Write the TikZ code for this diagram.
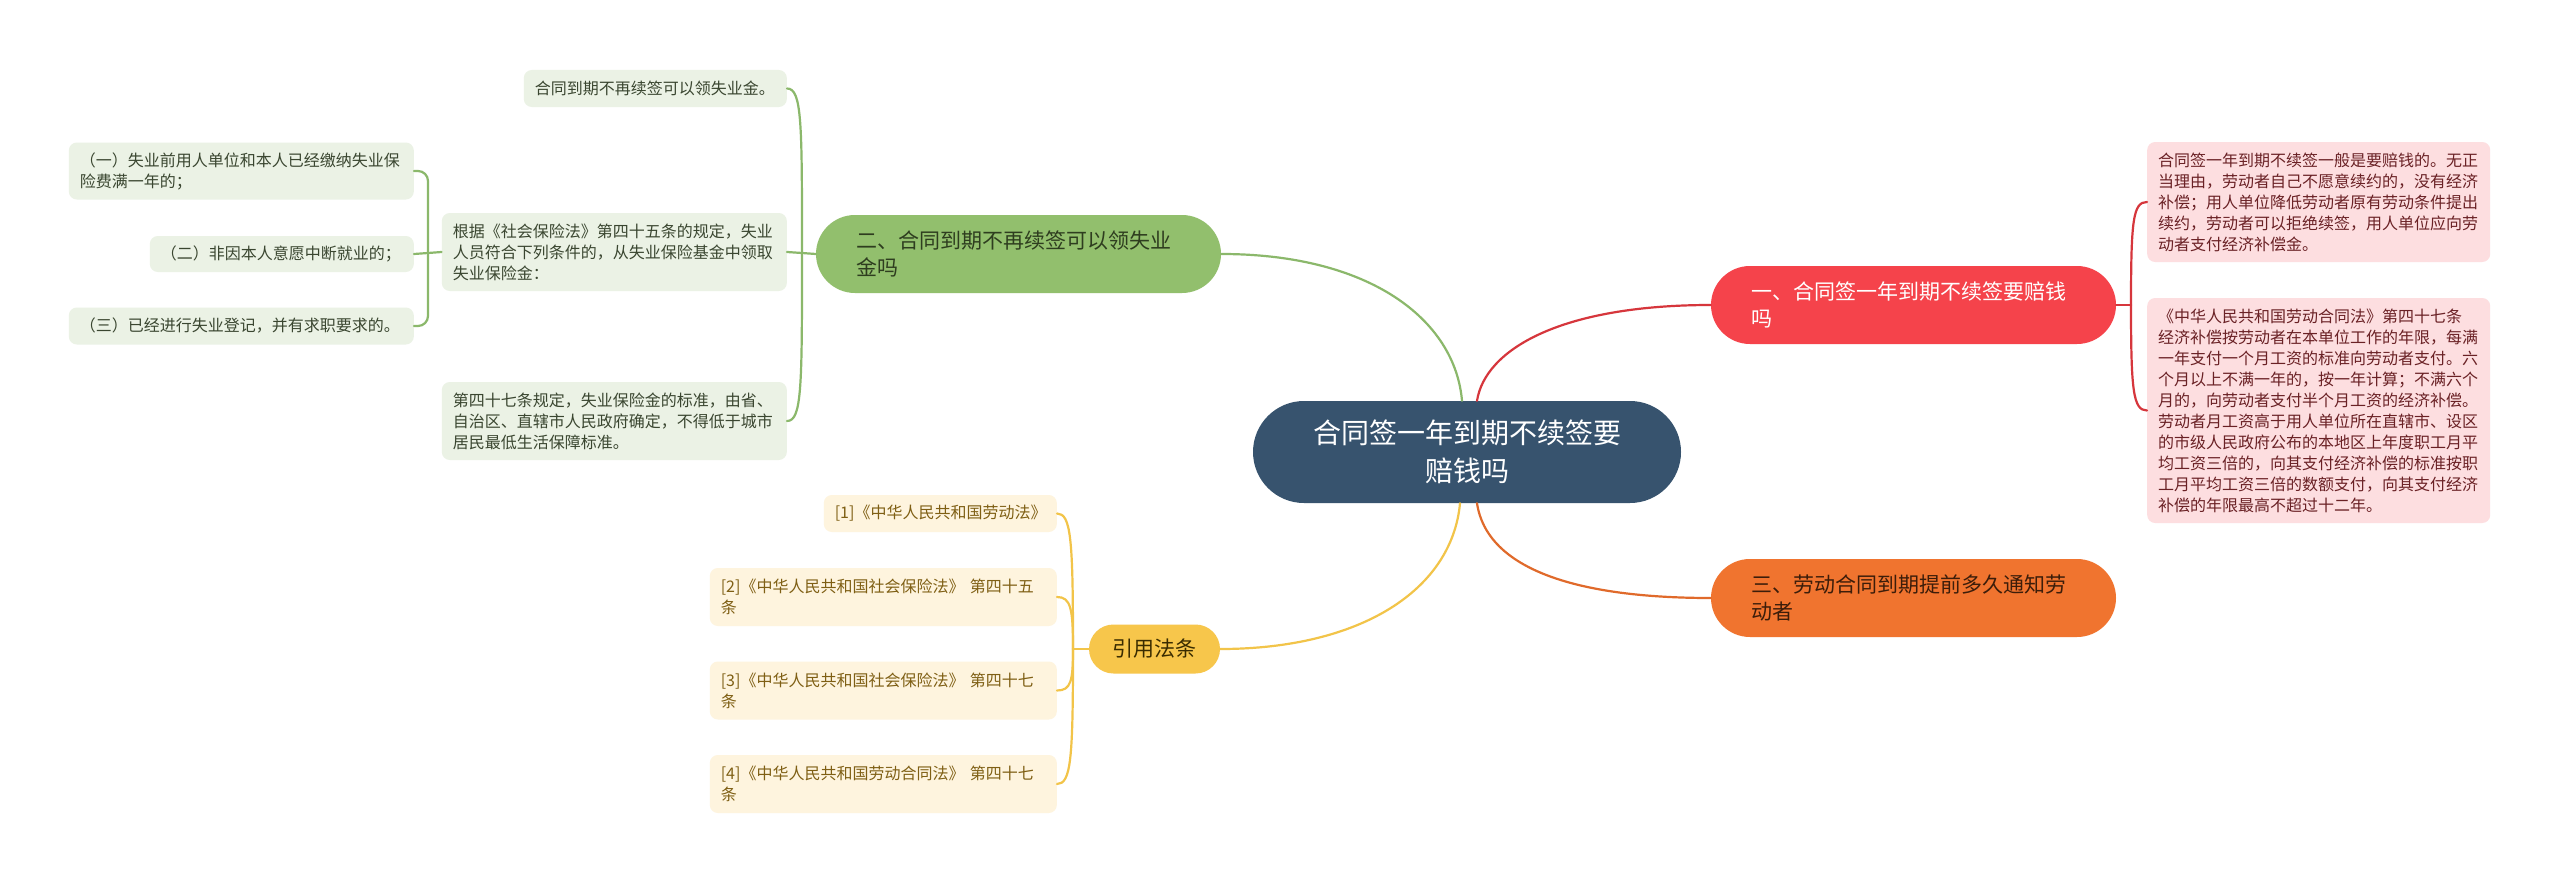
\documentclass[tikz,border=0pt]{standalone}
\usepackage{fontspec}
\setmainfont{Noto Sans CJK SC}
\usetikzlibrary{calc}
\definecolor{cfill}{HTML}{37536E}
\definecolor{gfill}{HTML}{92BF6D}
\definecolor{gtext}{HTML}{2E3D1F}
\definecolor{gleaffill}{HTML}{EBF2E5}
\definecolor{gleaftext}{HTML}{3A4630}
\definecolor{gline}{HTML}{8BB86B}
\definecolor{rfill}{HTML}{F5434B}
\definecolor{rleaffill}{HTML}{FDDEE0}
\definecolor{rleaftext}{HTML}{6A2125}
\definecolor{rline}{HTML}{D6363C}
\definecolor{ofill}{HTML}{F0742F}
\definecolor{otext}{HTML}{3C1D0A}
\definecolor{oline}{HTML}{E06A2B}
\definecolor{yfill}{HTML}{F7C64B}
\definecolor{ytext}{HTML}{3A2C00}
\definecolor{yleaffill}{HTML}{FEF4DE}
\definecolor{yleaftext}{HTML}{7F5F14}
\definecolor{yline}{HTML}{F2C449}
\begin{document}
\begin{tikzpicture}[x=1pt,y=-1pt,
  central/.style={fill=cfill, text=white, rounded corners=51pt, minimum height=102pt,
    text width=330pt, inner xsep=49pt, inner ysep=4pt, align=center,
    font=\fontsize{28}{38}\selectfont},
  branch/.style={rounded corners=39pt, minimum height=78pt, text width=325pt,
    inner xsep=40pt, inner ysep=4pt, align=left, font=\fontsize{21}{27}\selectfont},
  ybranch/.style={fill=yfill, text=ytext, rounded corners=24.5pt, minimum height=49pt,
    minimum width=131pt, inner xsep=4pt, inner ysep=4pt, align=center,
    font=\fontsize{21}{27}\selectfont},
  leaf/.style={rounded corners=8pt, inner xsep=11pt, inner ysep=4pt, align=left,
    font=\fontsize{16}{21}\selectfont},
  gleaf/.style={leaf, fill=gleaffill, text=gleaftext},
  rleaf/.style={leaf, fill=rleaffill, text=rleaftext},
  yleaf/.style={leaf, fill=yleaffill, text=yleaftext},
  conn/.style={line width=2.2pt, line cap=round},
  gconn/.style={conn, draw=gline},
  rconn/.style={conn, draw=rline},
  yconn/.style={conn, draw=yline},
  oconn/.style={conn, draw=oline}]
\fill[white] (0,0) rectangle (2560,883);
\useasboundingbox (0,0) rectangle (2560,883);

% central
\node[central] (c) at (1467,452) {合同签一年到期不续签要\\赔钱吗};

% branches
\node[branch, fill=gfill, text=gtext] (gn) at (1018.5,254) {二、合同到期不再续签可以领失业\\金吗};
\node[branch, fill=rfill, text=white] (rn) at (1913.5,305) {一、合同签一年到期不续签要赔钱\\吗};
\node[branch, fill=ofill, text=otext] (on) at (1913.5,598) {三、劳动合同到期提前多久通知劳\\动者};
\node[ybranch] (yn) at (1154.5,649) {引用法条};

% green leaves
\node[gleaf, anchor=east, text width=241pt, minimum height=37pt] (g1) at (787,88.5) {合同到期不再续签可以领失业金。};
\node[gleaf, anchor=east, text width=323pt, minimum height=78pt] (g2) at (787,252) {根据《社会保险法》第四十五条的规定，失业\\人员符合下列条件的，从失业保险基金中领取\\失业保险金：};
\node[gleaf, anchor=east, text width=323pt, minimum height=78pt] (g3) at (787,421) {第四十七条规定，失业保险金的标准，由省、\\自治区、直辖市人民政府确定，不得低于城市\\居民最低生活保障标准。};
\node[gleaf, anchor=east, text width=323pt, minimum height=57pt] (g21) at (414,171) {（一）失业前用人单位和本人已经缴纳失业保\\险费满一年的；};
\node[gleaf, anchor=east, text width=242pt, minimum height=36pt] (g22) at (414,254) {（二）非因本人意愿中断就业的；};
\node[gleaf, anchor=east, text width=323pt, minimum height=37pt] (g23) at (414,326) {（三）已经进行失业登记，并有求职要求的。};

% yellow leaves
\node[yleaf, anchor=east, text width=211pt, minimum height=37pt] (y1) at (1057,513.5) {[1]《中华人民共和国劳动法》};
\node[yleaf, anchor=east, text width=325pt, minimum height=58pt] (y2) at (1057,597) {[2]《中华人民共和国社会保险法》~第四十五\\条};
\node[yleaf, anchor=east, text width=325pt, minimum height=58pt] (y3) at (1057,690.5) {[3]《中华人民共和国社会保险法》~第四十七\\条};
\node[yleaf, anchor=east, text width=325pt, minimum height=58pt] (y4) at (1057,784) {[4]《中华人民共和国劳动合同法》~第四十七\\条};

% red leaves
\node[rleaf, anchor=west, text width=321pt, minimum height=120pt] (r1) at (2147,202) {合同签一年到期不续签一般是要赔钱的。无正\\当理由，劳动者自己不愿意续约的，没有经济\\补偿；用人单位降低劳动者原有劳动条件提出\\续约，劳动者可以拒绝续签，用人单位应向劳\\动者支付经济补偿金。};
\node[rleaf, anchor=west, text width=321pt, minimum height=225pt] (r2) at (2147,410.5) {《中华人民共和国劳动合同法》第四十七条\\经济补偿按劳动者在本单位工作的年限，每满\\一年支付一个月工资的标准向劳动者支付。六\\个月以上不满一年的，按一年计算；不满六个\\月的，向劳动者支付半个月工资的经济补偿。\\劳动者月工资高于用人单位所在直辖市、设区\\的市级人民政府公布的本地区上年度职工月平\\均工资三倍的，向其支付经济补偿的标准按职\\工月平均工资三倍的数额支付，向其支付经济\\补偿的年限最高不超过十二年。};

% central connectors
\coordinate (cgt) at ($(c.north)+(-5,0)$);
\coordinate (crt) at ($(c.north)+(10,0)$);
\coordinate (cyb) at ($(c.south)+(-7,0)$);
\coordinate (cob) at ($(c.south)+(10,0)$);
\draw[gconn] (cgt) .. controls +(-7,-81) and +(149,0) .. (gn.east);
\draw[rconn] (crt) .. controls +(8,-51) and +(-151,0) .. (rn.west);
\draw[yconn] (cyb) .. controls +(-8,87) and +(140,0) .. (yn.east);
\draw[oconn] (cob) .. controls +(10,67) and +(-132,0) .. (on.west);

% green connectors
\coordinate (jg) at (802,253);
\draw[gconn] (gn.west) -- (jg);
\draw[gconn] (jg) .. controls +(0,-130) and +(15,0) .. (g1.east);
\draw[gconn] (jg) -- (g2.east);
\draw[gconn] (jg) .. controls +(0,133) and +(15,0) .. (g3.east);
\coordinate (jg2) at (428,253);
\draw[gconn] (g2.west) -- (jg2);
\draw[gconn, rounded corners=10pt] (jg2) |- (g21.east);
\draw[gconn] (jg2) -- (g22.east);
\draw[gconn, rounded corners=10pt] (jg2) |- (g23.east);

% yellow connectors
\coordinate (jy) at (1073,649);
\draw[yconn] (yn.west) -- (jy);
\draw[yconn] (jy) .. controls +(0,-110) and +(14,0) .. (y1.east);
\draw[yconn] (jy) .. controls +(0,-40) and +(14,0) .. (y2.east);
\draw[yconn] (jy) .. controls +(0,32) and +(14,0) .. (y3.east);
\draw[yconn] (jy) .. controls +(0,110) and +(14,0) .. (y4.east);

% red connectors
\coordinate (jr) at (2131,305);
\draw[rconn] (rn.east) -- (jr);
\draw[rconn] (jr) .. controls +(0,-85) and +(-14,0) .. (r1.west);
\draw[rconn] (jr) .. controls +(0,85) and +(-14,0) .. (r2.west);
\end{tikzpicture}
\end{document}
